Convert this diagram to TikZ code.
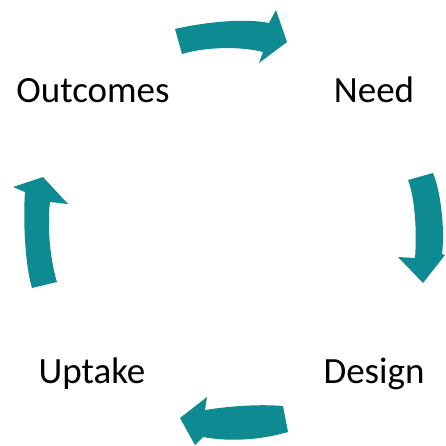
\documentclass[tikz,border=0pt]{standalone}
\usepackage{fontspec}
\setmainfont{Carlito}
\definecolor{teal1}{RGB}{14,139,146}
\begin{document}
\begin{tikzpicture}[x=1pt,y=-1pt,
  lbl/.style={anchor=base,inner sep=0pt,font=\fontsize{37}{44}\selectfont},
  blockarrow/.style={fill=teal1,draw=none}]
\useasboundingbox (0,0) rectangle (446,445);
% labels
\node[lbl] (outcomes) at (93,102) {Outcomes};
\node[lbl] (need) at (374,102) {Need};
\node[lbl] (uptake) at (92,383) {Uptake};
\node[lbl] (design) at (374,383) {Design};
% top arrow
\fill[blockarrow] (175,29) .. controls (205,22) and (245,18) .. (269,23)
  -- (276,10) -- (287,42) -- (259,63) -- (263,52)
  .. controls (240,46) and (205,47) .. (182,54) -- cycle;
% right arrow
\fill[blockarrow] (408,180) -- (433,173) .. controls (441,192) and (445,230) .. (442,254)
  -- (445,255) -- (423,283) -- (398,257) -- (415,258)
  .. controls (417,232) and (415,198) .. (408,180) -- cycle;
% left arrow
\fill[blockarrow] (43,177) -- (68,204) -- (50,202)
  .. controls (47,225) and (50,260) .. (57,282) -- (32,288)
  .. controls (25,265) and (23,220) .. (25,192) -- (13,187) -- cycle;
% bottom arrow
\fill[blockarrow] (180,418) -- (207,397) -- (205,410)
  .. controls (230,406) and (260,404) .. (283,406) -- (288,432)
  .. controls (260,440) and (230,442) .. (203,437) -- (195,445) -- cycle;
\end{tikzpicture}
\end{document}
